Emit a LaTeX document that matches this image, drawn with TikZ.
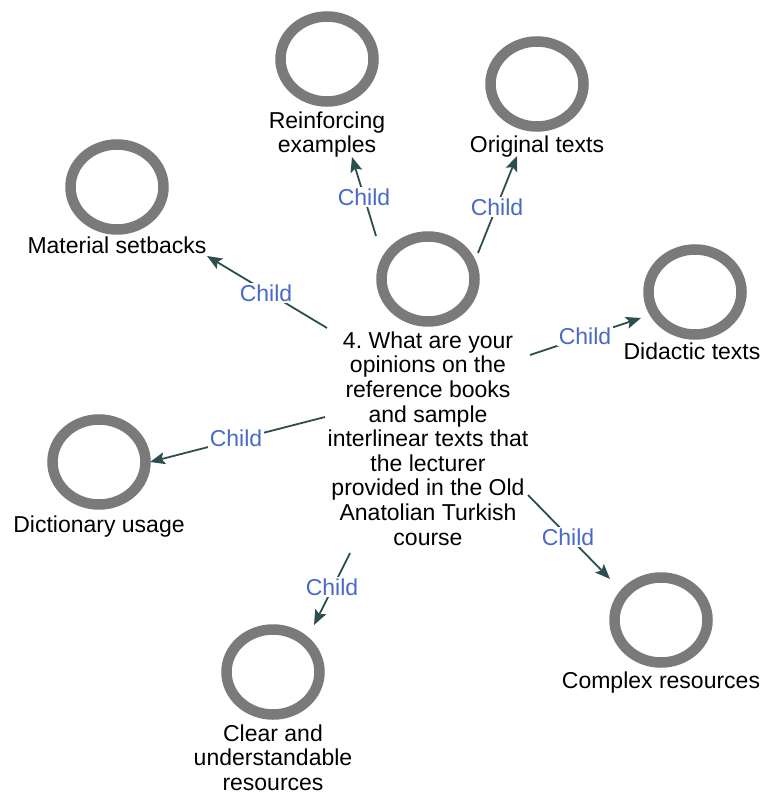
\documentclass[tikz,border=0pt]{standalone}
\usepackage{fontspec}
\setmainfont{Liberation Sans}
\usetikzlibrary{arrows.meta,shapes.geometric}
\definecolor{ringgray}{RGB}{122,122,122}
\definecolor{edgecol}{RGB}{45,78,78}
\definecolor{lblblue}{RGB}{72,106,198}
\frenchspacing
\begin{document}
\begin{tikzpicture}[x=1pt,y=-1pt,
  ring/.style={ellipse,draw=ringgray,line width=10.5pt,minimum width=93pt,minimum height=85pt,inner sep=0pt},
  txt/.style={anchor=north,align=center,inner sep=0pt,font=\fontsize{23}{24.6}\selectfont},
  child/.style={fill=white,inner sep=1.5pt,text=lblblue,font=\fontsize{23}{24.6}\selectfont},
  link/.style={draw=edgecol,line width=1.8pt,-{Stealth[length=15pt,width=12pt,inset=3pt]}}]
\useasboundingbox (0,0) rectangle (763,794);

% rings
\node[ring] (rc) at (428,279) {};
\node[ring] (rre) at (327,59) {};
\node[ring] (ror) at (537,84) {};
\node[ring] (rma) at (117,187) {};
\node[ring] (rdi) at (695,292) {};
\node[ring] (rdc) at (99,462) {};
\node[ring] (rcl) at (273,672) {};
\node[ring] (rco) at (661,620) {};

% texts
\node[txt] (tc) at (428,331.5) {4. What are your\\opinions on the\\reference books\\and sample\\interlinear texts that\\the lecturer\\provided in the Old\\Anatolian Turkish\\course};
\node[txt] (tre) at (327,111.5) {Reinforcing\\examples};
\node[txt] (tor) at (537,135.5) {Original texts};
\node[txt] (tma) at (117,236.5) {Material setbacks};
\node[txt] (tdi) at (692,343) {Didactic texts};
\node[txt] (tdc) at (99,515.5) {Dictionary usage};
\node[txt] (tcl) at (273,724.5) {Clear and\\understandable\\resources};
\node[txt] (tco) at (661,672) {Complex resources};

% connector end points
\coordinate (s1) at (376,236); \coordinate (e1) at (352,157);
\coordinate (s2) at (478,253); \coordinate (e2) at (517,156);
\coordinate (s3) at (327,328); \coordinate (e3) at (207,256);
\coordinate (s4) at (530,355); \coordinate (e4) at (641,318);
\coordinate (s5) at (325,417); \coordinate (e5) at (150,462);
\coordinate (s6) at (350,553); \coordinate (e6) at (314,625);
\coordinate (s7) at (528,495); \coordinate (e7) at (610,579);

\draw[link] (s1) -- (e1);
\draw[link] (s2) -- (e2);
\draw[link] (s3) -- (e3);
\draw[link] (s4) -- (e4);
\draw[link] (s5) -- (e5);
\draw[link] (s6) -- (e6);
\draw[link] (s7) -- (e7);

% connector labels
\node[child] (c1) at (364,197) {Child};
\node[child] (c2) at (497,207) {Child};
\node[child] (c3) at (266,293) {Child};
\node[child] (c4) at (585,336) {Child};
\node[child] (c5) at (236,438) {Child};
\node[child] (c6) at (332,587) {Child};
\node[child] (c7) at (568,537) {Child};
\end{tikzpicture}
\end{document}
